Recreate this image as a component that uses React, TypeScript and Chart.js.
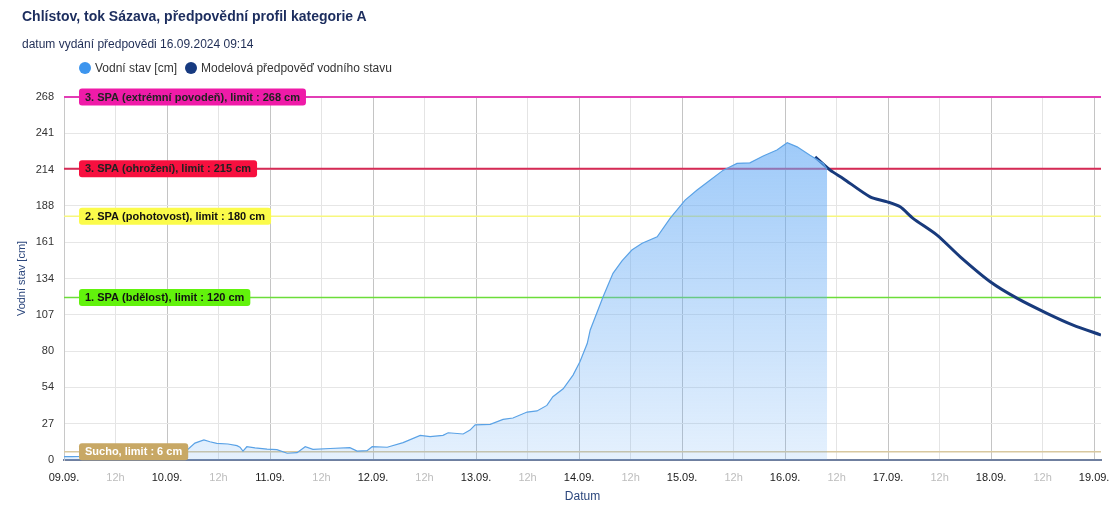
import React, { useEffect, useRef } from "react";
import { Chart, registerables } from "chart.js";

Chart.register(...registerables);

// hours since 09.09. 00:00
const obsHours = [0, 1.9, 3.7, 10.7, 17.7, 23.5, 27, 28.9, 30.5, 32.6, 34, 35.6, 38.2, 40.3, 41, 41.7, 42.6, 44.5, 47.3, 49.6, 52, 54.3, 56.2, 58, 62, 66.6, 68.3, 70.6, 71.8, 75.3, 79, 83, 85.3, 88.3, 89.5, 93, 94.6, 95.8, 99.3, 102.3, 104.6, 107.9, 110.2, 112.5, 113.9, 116.3, 118.6, 120.2, 121.9, 122.6, 125.6, 127.9, 130, 132.3, 134.7, 138.2, 141.2, 144.7, 147.5, 150.5, 153.6, 156.8, 159.8, 162.9, 166.1, 168.5, 170.8, 173.8, 176.9, 177.8];
const obsLevels = [2.5, 2.5, 2.6, 3, 3.5, 4.5, 6, 8, 12.5, 14.8, 13.5, 12.3, 11.8, 10.6, 9.5, 6.6, 9.8, 9, 8.1, 7.6, 5, 5.4, 9.8, 7.9, 8.5, 9.1, 6.6, 6.9, 9.8, 9.4, 12.8, 18.2, 17.2, 18.2, 20.1, 19.2, 22.1, 26, 26.3, 30, 31, 35.4, 36.2, 40.3, 46.7, 52.6, 62.7, 72.5, 86, 96, 120.5, 137.8, 147, 155, 160, 164.8, 178.4, 191.9, 199.3, 206.6, 214, 219, 219.4, 224.4, 228.8, 234.2, 231.2, 225, 219, 214.5];

const fcHours = [175, 178.5, 181.5, 187.8, 191.8, 194.8, 197.8, 203.4, 208.8, 215.8, 222.1, 229, 235.1, 241.6];
const fcLevels = [223.8, 214, 207.9, 194.3, 190.6, 186.9, 178.4, 166, 150, 131.6, 119.3, 108.3, 99.6, 92.3];

const limitValues = [268, 215, 180, 120, 6];
const limitLabels = [
  "3. SPA (extrémní povodeň), limit : 268 cm",
  "3. SPA (ohrožení), limit : 215 cm",
  "2. SPA (pohotovost), limit : 180 cm",
  "1. SPA (bdělost), limit : 120 cm",
  "Sucho, limit : 6 cm",
];
const limitLineColors = ["#e23db5", "#d62a55", "#f7f77e", "#6cdd3a", "#d8c8a0"];
const limitBoxColors = ["#ef1ba8", "#f7103f", "#fbfb4a", "#62f20c", "#c8a865"];
const limitTextColors = ["#222222", "#222222", "#111111", "#111111", "#ffffff"];

const yMax = 268;
const yTickCount = 10;
const xTickHours = [0, 12, 24, 36, 48, 60, 72, 84, 96, 108, 120, 132, 144, 156, 168, 180, 192, 204, 216, 228, 240];
const dayLabels = ["09.09.", "10.09.", "11.09.", "12.09.", "13.09.", "14.09.", "15.09.", "16.09.", "17.09.", "18.09.", "19.09."];
const halfDayLabel = "12h";

const FONT = "'Liberation Sans', Arial, Helvetica, sans-serif";

const limitsPlugin = {
  id: "limits",
  beforeDatasetsDraw(chart: any) {
    const { ctx, chartArea: a, scales } = chart;
    const y = scales.y;
    ctx.save();
    limitValues.forEach((v, i) => {
      const py = y.getPixelForValue(v);
      ctx.strokeStyle = limitLineColors[i];
      ctx.lineWidth = i < 2 ? 2 : 1.5;
      ctx.beginPath();
      ctx.moveTo(a.left, py);
      ctx.lineTo(a.right, py);
      ctx.stroke();
    });
    ctx.restore();
  },
  afterDatasetsDraw(chart: any) {
    const { ctx, chartArea: a, scales } = chart;
    const y = scales.y;
    ctx.save();
    ctx.font = `bold 11px ${FONT}`;
    ctx.textBaseline = "middle";
    ctx.textAlign = "left";
    limitValues.forEach((v, i) => {
      const py = y.getPixelForValue(v);
      const w = ctx.measureText(limitLabels[i]).width + 12;
      const h = 17;
      const x = a.left + 15;
      ctx.fillStyle = limitBoxColors[i];
      ctx.beginPath();
      (ctx as any).roundRect(x, py - h / 2, w, h, 3);
      ctx.fill();
      ctx.fillStyle = limitTextColors[i];
      ctx.fillText(limitLabels[i], x + 6, py + 0.5);
    });
    ctx.restore();
  },
};

export default function App() {
  const ref = useRef<HTMLCanvasElement | null>(null);

  useEffect(() => {
    if (!ref.current) return;
    Chart.defaults.font.family = FONT;
    const yTicks = Array.from({ length: yTickCount + 1 }, (_, i) => (i * yMax) / yTickCount);
    const chart = new Chart(ref.current, {
      type: "line",
      data: {
        datasets: [
          {
            label: "Vodní stav [cm]",
            data: obsHours.map((h, i) => ({ x: h, y: obsLevels[i] })),
            borderColor: "#5aa2e6",
            borderWidth: 1.2,
            pointRadius: 0,
            fill: "origin",
            backgroundColor: (c: any) => {
              const { chart: ch } = c;
              const area = ch.chartArea;
              if (!area) return "rgba(110,175,245,0.4)";
              const g = ch.ctx.createLinearGradient(0, area.top + 45, 0, area.bottom);
              g.addColorStop(0, "rgba(100,170,245,0.62)");
              g.addColorStop(1, "rgba(100,170,245,0.17)");
              return g;
            },
            tension: 0,
          },
          {
            label: "Modelová předpověď vodního stavu",
            data: fcHours.map((h, i) => ({ x: h, y: fcLevels[i] })),
            borderColor: "#183a7c",
            borderWidth: 3,
            pointRadius: 0,
            fill: false,
            tension: 0.25,
          },
        ],
      },
      options: {
        animation: false,
        responsive: true,
        maintainAspectRatio: false,
        layout: { padding: { left: 0, right: 9, top: 97, bottom: 0 } },
        plugins: {
          legend: { display: false },
          tooltip: { enabled: false },
          title: { display: false },
        },
        scales: {
          x: {
            type: "linear",
            min: 0,
            max: 241.6,
            afterBuildTicks: (s: any) => {
              s.ticks = xTickHours.map((v) => ({ value: v }));
            },
            afterFit: (s: any) => {
              s.height = 49;
              s.paddingLeft = 0;
              s.paddingRight = 0;
            },
            grid: {
              color: (c: any) => (c.tick && c.tick.value % 24 === 0 ? "#c4c4c4" : "#e4e4e4"),
              lineWidth: 1,
              drawTicks: false,
            },
            border: { color: "#6f7f9f", width: 2 },
            ticks: {
              autoSkip: false,
              maxRotation: 0,
              padding: 11,
              font: { size: 11 },
              color: (c: any) => (c.tick && c.tick.value % 24 === 0 ? "#1a1a1a" : "#bdbdbd"),
              callback: (v: any) => (Number(v) % 24 === 0 ? dayLabels[Number(v) / 24] : halfDayLabel),
            },
            title: {
              display: true,
              text: "Datum",
              color: "#2b467c",
              font: { size: 12 },
              padding: { top: 0, bottom: 5 },
            },
          },
          y: {
            min: 0,
            max: yMax,
            afterBuildTicks: (s: any) => {
              s.ticks = yTicks.map((v) => ({ value: v }));
            },
            afterFit: (s: any) => {
              s.width = 64;
              s.paddingTop = 0;
              s.paddingBottom = 0;
            },
            grid: { color: "#e6e6e6", drawTicks: false },
            border: { color: "#c8c8c8", width: 1 },
            ticks: {
              padding: 10,
              font: { size: 11 },
              color: "#333333",
              callback: (v: any) => String(Math.round(Number(v))),
            },
            title: {
              display: true,
              text: "Vodní stav [cm]",
              color: "#2b467c",
              font: { size: 11 },
              padding: { top: 15, bottom: 0 },
            },
          },
        },
      } as any,
      plugins: [limitsPlugin],
    });
    return () => chart.destroy();
  }, []);

  const dot = (color: string) => ({
    display: "inline-block",
    width: 12,
    height: 12,
    borderRadius: "50%",
    background: color,
    marginRight: 4,
    verticalAlign: "-2px",
  });

  return (
    <div
      style={{
        position: "absolute",
        left: 0,
        top: 0,
        width: 1110,
        height: 509,
        background: "#ffffff",
        fontFamily: FONT,
      }}
    >
      <canvas ref={ref} style={{ position: "absolute", left: 0, top: 0 }} />
      <div
        style={{
          position: "absolute",
          left: 22,
          top: 8,
          lineHeight: "16px",
          fontSize: 14,
          fontWeight: "bold",
          color: "#1c2d5e",
          whiteSpace: "nowrap",
        }}
      >
        Chlístov, tok Sázava, předpovědní profil kategorie A
      </div>
      <div
        style={{
          position: "absolute",
          left: 22,
          top: 36,
          lineHeight: "16px",
          fontSize: 12,
          color: "#1f2d55",
          whiteSpace: "nowrap",
        }}
      >
        datum vydání předpovědi 16.09.2024 09:14
      </div>
      <div
        style={{
          position: "absolute",
          left: 79,
          top: 60,
          lineHeight: "16px",
          fontSize: 12,
          color: "#333333",
          whiteSpace: "nowrap",
        }}
      >
        <span style={dot("#3d95ee")} />
        <span style={{ marginRight: 8 }}>Vodní stav [cm]</span>
        <span style={dot("#173a80")} />
        <span>Modelová předpověď vodního stavu</span>
      </div>
    </div>
  );
}
